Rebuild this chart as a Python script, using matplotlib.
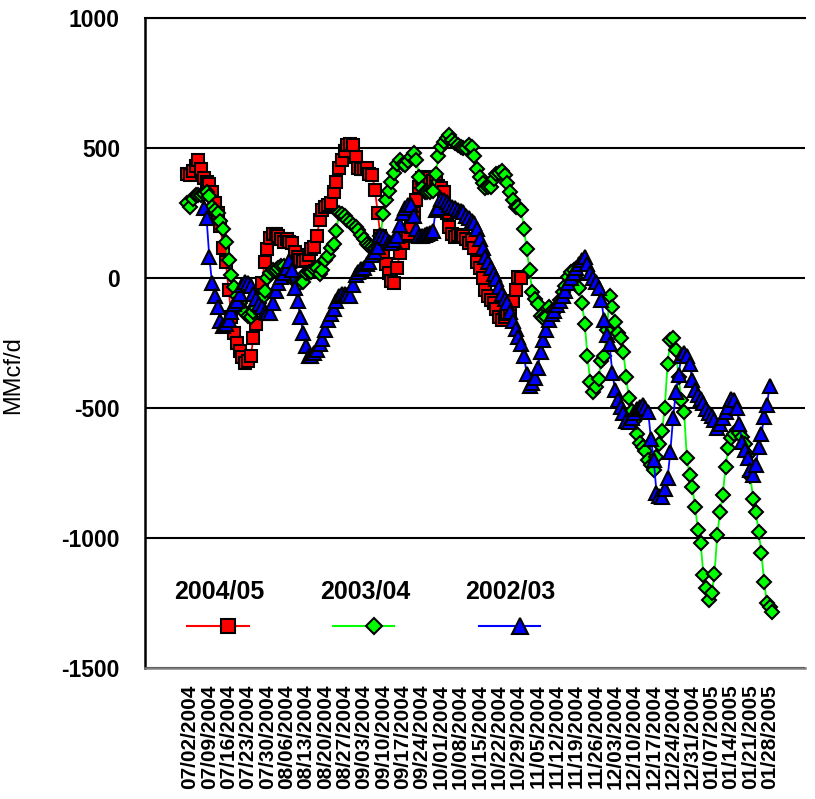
import matplotlib
matplotlib.use("Agg")
import matplotlib.pyplot as plt
import pandas as pd

plt.rcParams['font.family'] = ['Liberation Sans', 'DejaVu Sans']

# Valores diarios (MMcf/d)
series_names = ["2004/05", "2003/04", "2002/03"]

red_start = "2004-07-01"
red_vals = [400, 395, 410, 430, 455, 420, 385, 370, 360, 330,
            290, 250, 200, 115, 60, -45, -150, -210, -250, -280,
            -305, -325, -320, -300, -230, -175, -90, -20, 60, 110,
            155, 170, 170, 160, 150, 140, 150, 140, 135, 100,
            80, 70, 65, 70, 90, 110, 120, 160, 225, 260,
            275, 280, 290, 330, 370, 425, 455, 490, 510, 515,
            510, 465, 425, 420, 420, 425, 400, 395, 340, 250,
            160, 100, 55, 20, -10, -20, 40, 95, 135, 160,
            170, 195, 250, 300, 350, 385, 390, 385, 385, 375,
            370, 355, 345, 330, 250, 195, 170, 158, 165, 160,
            160, 150, 135, 145, 115, 60, 40, 0, -45, -70,
            -85, -95, -120, -150, -160, -150, -140, -130, -90, -45,
            5, 0]

green_start = "2004-07-01"
green_vals = [290, 275, 305, 320, 320, 320, 325, 330, 315, 275,
              260, 250, 220, 190, 140, 70, 10, -35, -70, -95,
              -120, -135, -145, -150, -130, -115, -95, -75, -50, 0,
              20, 30, 30, 40, 45, 45, 30, 15, 0, -10,
              -15, -20, -15, 20, 25, 25, 35, 40, 15, 30,
              70, 85, 115, 130, 180, 250, 245, 240, 225, 215,
              205, 195, 185, 165, 150, 130, 125, 120, 115, 120,
              160, 245, 300, 335, 370, 405, 440, 455, 440, 435,
              450, 465, 480, 455, 390, 345, 330, 330, 330, 335,
              400, 470, 505, 525, 540, 550, 530, 520, 510, 505,
              500, 500, 510, 505, 470, 420, 390, 365, 345, 350,
              350, 380, 400, 405, 410, 395, 365, 330, 300, 275,
              275, 260, 190, 110, 30, -55, -80, -100, -145, -155,
              -150, -110, -125, -130, -110, -85, -55, -30, 5, 25,
              30, 0, -40, -95, -175, -300, -400, -440, -420, -390,
              -320, -300, -200, -70, -110, -170, -210, -230, -285, -380,
              -460, -510, -550, -600, -635, -650, -665, -700, -720, -740,
              -690, -640, -590, -500, -330, -240, -230, -277, -380, -470,
              -514, -692, -758, -803, -880, -969, -1019, -1142, -1192, -1238,
              -1212, -1140, -990, -900, -835, -727, -654, -615, -600, -585,
              -595, -612, -640, -681, -760, -850, -900, -977, -1058, -1169,
              -1250, -1265, -1285]

blue_start = "2004-07-07"
blue_vals = [270, 230, 80, -20, -70, -110, -165, -185, -175, -160,
             -130, -100, -90, -60, -25, -15, -20, -30, -60, -80,
             -100, -110, -130, -135, -135, -95, -50, -20, 5, 20,
             40, 65, 30, -40, -90, -150, -210, -260, -300, -300,
             -290, -275, -255, -235, -200, -160, -140, -120, -90, -70,
             -60, -60, -65, -70, -25, 10, 25, 35, 40, 55,
             60, 90, 100, 120, 165, 160, 155, 140, 135, 145,
             160, 205, 250, 270, 280, 280, 240, 190, 160, 160,
             165, 170, 175, 180, 260, 270, 305, 300, 292, 280,
             273, 268, 262, 258, 254, 240, 230, 220, 212, 190,
             150, 115, 80, 60, 40, 15, -5, -35, -60, -80,
             -96, -130, -165, -195, -225, -255, -300, -370, -415, -405,
             -385, -345, -285, -240, -200, -160, -140, -125, -104, -88,
             -68, -50, -20, 0, 20, 40, 55, 70, 82, 55,
             20, 0, -15, -40, -85, -160, -220, -255, -365, -430,
             -470, -496, -519, -550, -555, -540, -520, -505, -495, -488,
             -500, -515, -620, -700, -825, -840, -842, -810, -770, -670,
             -540, -440, -373, -300, -290, -300, -330, -392, -431, -450,
             -465, -480, -505, -520, -530, -546, -575, -560, -538, -515,
             -496, -465, -470, -500, -560, -630, -660, -692, -738, -758,
             -720, -650, -600, -535, -488, -415]

tick_dates = pd.date_range("2004-07-02", "2005-01-28", freq="7D")
y_ticks = [-1500, -1000, -500, 0, 500, 1000]

# Estilo de cada serie: color, marcador, tamano
styles = [("#FF0000", "s", 8.5), ("#00FF00", "D", 7.3), ("#0000FF", "^", 10)]

fig = plt.figure(figsize=(8.15, 7.99), dpi=100)
ax = fig.add_axes([145 / 815, 1 - 668 / 799, 660 / 815, 650 / 799])

data = [(red_start, red_vals), (green_start, green_vals), (blue_start, blue_vals)]
for (start, vals), (color, marker, ms) in zip(data, styles):
    dates = pd.date_range(start, periods=len(vals), freq="D")
    ax.plot(dates, vals, color=color, lw=1.3, marker=marker, ms=ms,
            markerfacecolor=color, markeredgecolor="black", markeredgewidth=1.5)

# Ejes
ax.set_ylim(-1500, 1000)
ax.set_yticks(y_ticks)
ax.set_yticklabels([str(v) for v in y_ticks], fontsize=16.5, fontweight="bold")
ax.yaxis.grid(True, color="black", lw=1.5)
ax.set_axisbelow(True)

t0 = pd.Timestamp("2004-07-02")
ax.set_xlim(t0 - pd.Timedelta(days=16.3), t0 + pd.Timedelta(days=222.8))
ax.set_xticks(tick_dates)
ax.set_xticklabels([d.strftime("%m/%d/%Y") for d in tick_dates],
                   rotation=90, fontsize=15, fontweight="bold")

ax.tick_params(axis="y", length=0, pad=18)
ax.tick_params(axis="x", length=0, pad=12)
ax.spines["right"].set_visible(False)
ax.spines["top"].set_color("black")
ax.spines["top"].set_linewidth(1.5)
ax.spines["left"].set_linewidth(1.8)
ax.spines["bottom"].set_color("#808080")
ax.spines["bottom"].set_linewidth(1.8)

fig.text(13 / 815, 1 - 375 / 799, "MMcf/d", rotation=90, ha="center", va="center",
         fontsize=17)

# Leyenda manual: etiqueta encima de la muestra
leg_x = [0.112, 0.333, 0.554]
for name, (color, marker, ms), lx in zip(series_names, styles, leg_x):
    ax.text(lx, 0.117, name, transform=ax.transAxes, ha="center", va="center",
            fontsize=18, fontweight="bold")
    ax.plot([lx - 0.048, lx + 0.045], [0.065, 0.065], transform=ax.transAxes,
            color=color, lw=1.5, clip_on=False)
    ax.plot([lx + 0.014], [0.065], transform=ax.transAxes, marker=marker, ms=ms + 1,
            markerfacecolor=color, markeredgecolor="black", markeredgewidth=1.5,
            clip_on=False)

fig.savefig("out.png", dpi=100)
